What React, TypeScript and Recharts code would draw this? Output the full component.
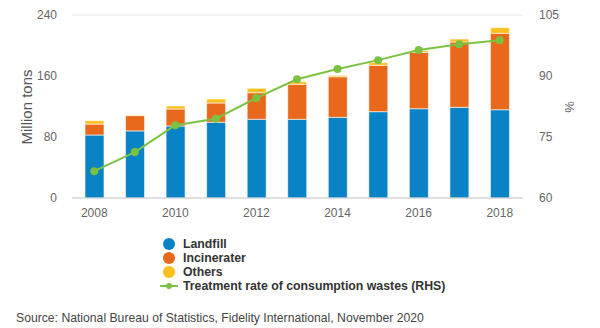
import { Bar, CartesianGrid, ComposedChart, Line, XAxis, YAxis } from "recharts";

const years = ["2008", "2009", "2010", "2011", "2012", "2013", "2014", "2015", "2016", "2017", "2018"];
const landfill = [82.6, 88, 94.4, 99.3, 103.2, 103.2, 105.8, 113.2, 117.1, 118.9, 115.8];
const incinerater = [14.4, 20, 22.3, 25.3, 34.9, 45.9, 53.2, 60.8, 73.9, 85.7, 100.2];
const others = [4.4, 1, 4, 5.2, 5.8, 3.4, 1.9, 3.5, 2.2, 3.9, 7.4];
const treatmentRate = [66.6, 71.3, 77.9, 79.5, 84.6, 89.2, 91.7, 93.9, 96.4, 97.8, 98.8];
const leftTicks = [0, 80, 160, 240];
const rightTicks = [60, 75, 90, 105];

const BLUE = "#0a82c6";
const ORANGE = "#e8681c";
const YELLOW = "#fbbf1e";
const GREEN = "#7cc242";

const font = "'Liberation Sans', Arial, sans-serif";

export default function App() {
  const data = years.map((year, i) => ({
    year,
    landfill: landfill[i],
    incinerater: incinerater[i],
    others: others[i],
    rate: treatmentRate[i],
  }));
  const tick = { fill: "#666", fontSize: 12, fontFamily: font };

  const legend = [
    { label: "Landfill", color: BLUE, line: false },
    { label: "Incinerater", color: ORANGE, line: false },
    { label: "Others", color: YELLOW, line: false },
    { label: "Treatment rate of consumption wastes (RHS)", color: GREEN, line: true },
  ];

  return (
    <div style={{ position: "absolute", left: 0, top: 0, width: 600, height: 328, background: "#fff", fontFamily: font }}>
      <ComposedChart width={600} height={230} data={data} margin={{ top: 15, right: 0, bottom: 0, left: 0 }} barSize={19}>
        <CartesianGrid vertical={false} stroke="#e6e6e6" />
        <XAxis
          dataKey="year"
          interval={1}
          tick={tick}
          tickLine={false}
          tickSize={0}
          tickMargin={10}
          height={32}
          stroke="#ccc"
          padding={{ left: 2, right: 3 }}
        />
        <YAxis
          yAxisId="left"
          domain={[0, 240]}
          ticks={leftTicks}
          width={72}
          tick={tick}
          axisLine={false}
          tickLine={false}
          tickSize={0}
          tickMargin={15}
        />
        <YAxis
          yAxisId="right"
          orientation="right"
          domain={[60, 105]}
          ticks={rightTicks}
          width={77}
          tick={tick}
          axisLine={false}
          tickLine={false}
          tickSize={0}
          tickMargin={16}
        />
        <Bar yAxisId="left" dataKey="landfill" stackId="a" fill={BLUE} stroke="#fff" strokeWidth={0.6} isAnimationActive={false} />
        <Bar yAxisId="left" dataKey="incinerater" stackId="a" fill={ORANGE} stroke="#fff" strokeWidth={0.6} isAnimationActive={false} />
        <Bar yAxisId="left" dataKey="others" stackId="a" fill={YELLOW} stroke="#fff" strokeWidth={0.6} isAnimationActive={false} />
        <Line
          yAxisId="right"
          dataKey="rate"
          stroke={GREEN}
          strokeWidth={2}
          dot={{ r: 4, fill: GREEN, stroke: GREEN, strokeWidth: 0 }}
          isAnimationActive={false}
        />
      </ComposedChart>

      <div
        style={{
          position: "absolute",
          left: 26,
          top: 107,
          transform: "translate(-50%, -50%) rotate(-90deg)",
          fontSize: 15,
          color: "#555",
          whiteSpace: "nowrap",
        }}
      >
        Million tons
      </div>
      <div
        style={{
          position: "absolute",
          left: 569,
          top: 107,
          transform: "translate(-50%, -50%) rotate(-90deg)",
          fontSize: 13,
          color: "#666",
        }}
      >
        %
      </div>

      <div style={{ position: "absolute", left: 160, top: 237 }}>
        {legend.map((item) => (
          <div key={item.label} style={{ display: "flex", alignItems: "center", height: 14 }}>
            <svg width={22} height={14} style={{ marginRight: 1 }}>
              {item.line ? (
                <>
                  <line x1={0} y1={7} x2={18} y2={7} stroke={item.color} strokeWidth={2} />
                  <circle cx={9} cy={7} r={3} fill={item.color} />
                </>
              ) : (
                <circle cx={9} cy={7} r={6} fill={item.color} />
              )}
            </svg>
            <span style={{ fontSize: 12.3, fontWeight: "bold", color: "#333", whiteSpace: "nowrap" }}>{item.label}</span>
          </div>
        ))}
      </div>

      <div style={{ position: "absolute", left: 16, top: 311, fontSize: 12.2, color: "#444", whiteSpace: "nowrap" }}>
        Source: National Bureau of Statistics, Fidelity International, November 2020
      </div>
    </div>
  );
}
